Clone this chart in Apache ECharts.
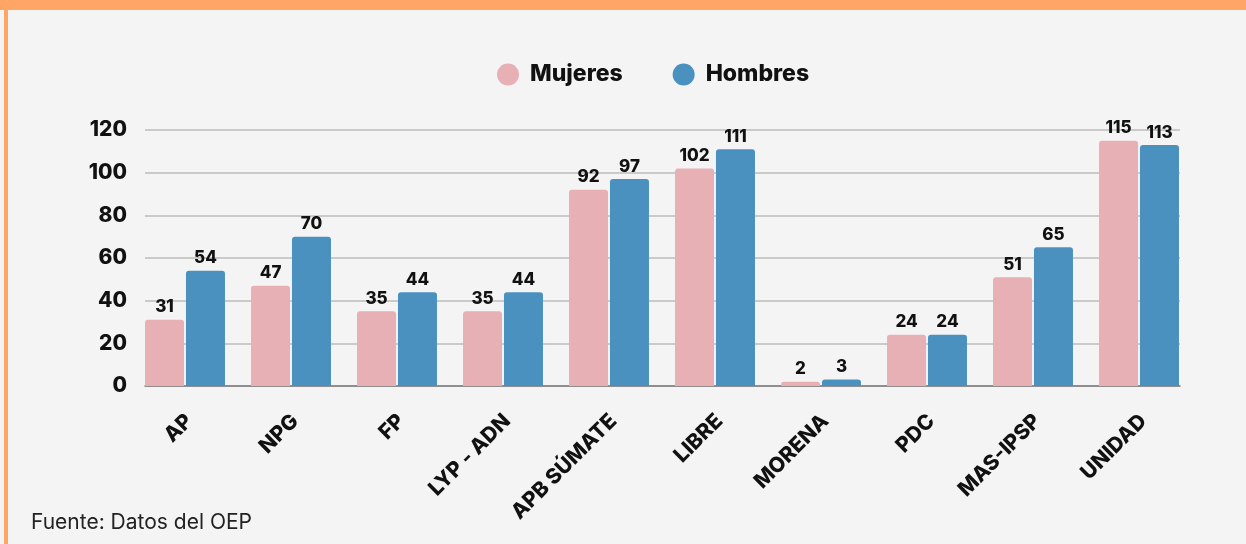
<!DOCTYPE html>
<html>
<head>
<meta charset="utf-8">
<script src="https://cdn.jsdelivr.net/npm/echarts@6/dist/echarts.min.js"></script>
<style>
  html, body { margin: 0; padding: 0; background: #f4f4f4; }
  #chart { width: 1246px; height: 544px; }
  .bar-top { position: absolute; left: 0; top: 0; width: 1246px; height: 10px; background: #ffa565; }
  .bar-left { position: absolute; left: 4px; top: 0; width: 4px; height: 544px; background: #ffa565; }
</style>
</head>
<body>
<div id="chart"></div>
<div class="bar-top"></div>
<div class="bar-left"></div>
<script>
const parties = ['AP', 'NPG', 'FP', 'LYP - ADN', 'APB SÚMATE', 'LIBRE', 'MORENA', 'PDC', 'MAS-IPSP', 'UNIDAD'];
const mujeres = [31, 47, 35, 35, 92, 102, 2, 24, 51, 115];
const hombres = [54, 70, 44, 44, 97, 111, 3, 24, 65, 113];
const yTicks = [0, 20, 40, 60, 80, 100, 120];

const fontFamily = 'Inter, "Noto Sans", sans-serif';
const pink = '#e7b0b4';
const blue = '#4a91c0';

const chart = echarts.init(document.getElementById('chart'));

// grid 0 carries the gridlines and y labels, grid 1 carries the bars
const option = {
  backgroundColor: 'transparent',
  textStyle: { fontFamily: fontFamily },
  legend: {
    left: 492,
    top: 58,
    itemWidth: 22,
    itemHeight: 22,
    itemGap: 50,
    icon: 'circle',
    textStyle: { fontSize: 23, fontWeight: 800, color: '#111', padding: [0, 0, 0, 6] },
    data: ['Mujeres', 'Hombres'],
  },
  grid: [
    { left: 145, right: 66, top: 130, bottom: 158 },
    { left: 132, right: 54, top: 130, bottom: 158 },
  ],
  xAxis: [
    {
      gridIndex: 0,
      type: 'category',
      data: parties,
      axisLine: { show: true, lineStyle: { color: '#7a7a7a', width: 1.5 } },
      axisTick: { show: false },
      axisLabel: { show: false },
    },
    {
      gridIndex: 1,
      type: 'category',
      data: parties,
      axisLine: { show: false },
      axisTick: { show: false },
      axisLabel: {
        rotate: 45,
        margin: 36,
        padding: [0, -6, 0, 0],
        fontSize: 21,
        fontWeight: 800,
        color: '#111',
        interval: 0,
      },
    },
  ],
  yAxis: [
    {
      gridIndex: 0,
      type: 'value',
      min: yTicks[0],
      max: yTicks[yTicks.length - 1],
      interval: 20,
      axisLine: { show: false },
      axisTick: { show: false },
      axisLabel: { fontSize: 21, fontWeight: 800, color: '#111', margin: 18 },
      splitLine: { lineStyle: { color: '#bdbdbd', width: 1.5 } },
    },
    {
      gridIndex: 1,
      type: 'value',
      min: yTicks[0],
      max: yTicks[yTicks.length - 1],
      show: false,
      splitLine: { show: false },
    },
  ],
  series: [
    {
      name: 'Mujeres',
      type: 'bar',
      xAxisIndex: 1,
      yAxisIndex: 1,
      data: mujeres,
      barWidth: 39,
      barGap: '5%',
      itemStyle: { color: pink, borderRadius: [3, 3, 0, 0] },
      label: { show: true, position: 'top', distance: 4, fontSize: 17, fontWeight: 800, color: '#111' },
    },
    {
      name: 'Hombres',
      type: 'bar',
      xAxisIndex: 1,
      yAxisIndex: 1,
      data: hombres,
      barWidth: 39,
      barGap: '5%',
      itemStyle: { color: blue, borderRadius: [3, 3, 0, 0] },
      label: { show: true, position: 'top', distance: 4, fontSize: 17, fontWeight: 800, color: '#111' },
    },
  ],
  graphic: [
    {
      type: 'text',
      left: 31,
      top: 512,
      style: { text: 'Fuente: Datos del OEP', fontSize: 21, fontFamily: fontFamily, fill: '#222' },
    },
  ],
};

chart.setOption(option);
</script>
</body>
</html>
